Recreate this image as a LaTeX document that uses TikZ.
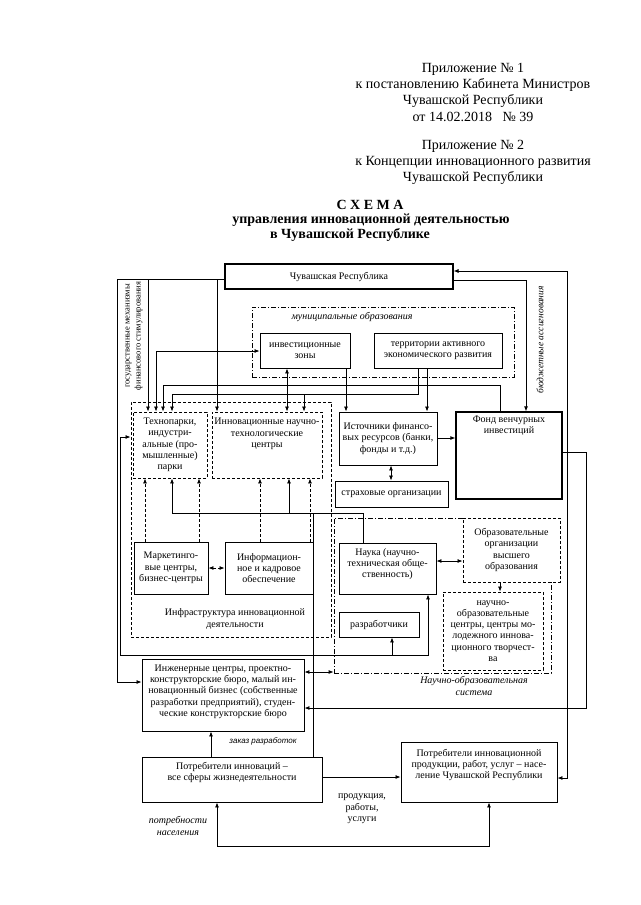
\documentclass[tikz,border=0pt]{standalone}
\usepackage{fontspec}
\setmainfont{Liberation Serif}
\newfontfamily\labsans{Liberation Sans}
\usetikzlibrary{arrows.meta}
\newcommand\bodyfont{\fontsize{10}{11.3}\selectfont}
\newcommand\headfont{\fontsize{14}{16}\selectfont}
\newcommand\titlefont{\fontsize{14}{15}\selectfont\bfseries}
\begin{document}
\begin{tikzpicture}[x=1pt,y=-1pt,
  solidbox/.style={draw, line width=0.9pt, fill=white, inner sep=0pt, align=center, font=\bodyfont},
  dashbox/.style={solidbox, dash pattern=on 3pt off 2pt},
  dotbox/.style={draw, line width=0.8pt, dash pattern=on 5pt off 2pt on 1pt off 2pt, inner sep=0pt},
  txt/.style={align=center, font=\bodyfont, inner sep=0pt},
  itxt/.style={align=center, font=\bodyfont\itshape, inner sep=0pt},
  conn/.style={line width=0.8pt},
  arr/.style={conn, -{Latex[length=5pt,width=4pt]}},
  arrb/.style={conn, {Latex[length=5pt,width=4pt]}-{Latex[length=5pt,width=4pt]}},
  darr/.style={arr, dash pattern=on 3pt off 2pt},
]
\useasboundingbox (0,0) rectangle (640,905);
\fill[white] (0,0) rectangle (640,905);

% header
\node[font=\headfont, inner sep=0] (h1) at (473,69) {Приложение № 1};
\node[font=\headfont, inner sep=0] (h2) at (473,85) {к постановлению Кабинета Министров};
\node[font=\headfont, inner sep=0] (h3) at (473,101) {Чувашской Республики};
\node[font=\headfont, inner sep=0] (h4) at (473,117) {от 14.02.2018\ \ \ № 39};
\node[font=\headfont, inner sep=0] (h5) at (473,146) {Приложение № 2};
\node[font=\headfont, inner sep=0] (h6) at (473,162) {к Концепции инновационного развития};
\node[font=\headfont, inner sep=0] (h7) at (473,178) {Чувашской Республики};

% title
\node[font=\titlefont, inner sep=0] (t1) at (370,205) {С Х Е М А};
\node[font=\titlefont, inner sep=0] (t2) at (371,220) {управления инновационной деятельностью};
\node[font=\titlefont, inner sep=0] (t3) at (350,235) {в Чувашской Республике};

% containers
\node[dotbox, minimum width=262pt, minimum height=70pt] (mun) at (383,342) {};
\node[itxt] (munt) at (352,317) {муниципальные образования};
\node[dashbox, minimum width=200pt, minimum height=235pt] (infra) at (231,519.5) {};
\node[txt] (infrat) at (235,619) {Инфраструктура инновационной\\деятельности};
\node[dotbox, minimum width=217pt, minimum height=155pt] (nos) at (442.5,595.5) {};
\node[itxt] (nost) at (474,686) {Научно-образовательная\\система};

% boxes
\node[solidbox, line width=1.1pt, minimum width=228pt, minimum height=25pt] (chr) at (339,276.5) {Чувашская Республика};
\node[solidbox, minimum width=90pt, minimum height=35pt] (inv) at (305,350.5) {инвестиционные\\зоны};
\node[solidbox, minimum width=128pt, minimum height=35pt] (taer) at (438,350.5) {территории активного\\экономического развития};
\node[dashbox, minimum width=74pt, minimum height=66pt] (tech) at (170,445) {Технопарки,\\индустри-\\альные (про-\\мышленные)\\парки};
\node[dashbox, minimum width=110pt, minimum height=66pt] (intc) at (267,445) {};
\node[txt] (intct) at (267,434) {Инновационные научно-\\технологические\\центры};
\node[solidbox, minimum width=74pt, minimum height=52pt] (market) at (171,568) {Маркетинго-\\вые центры,\\бизнес-центры};
\node[solidbox, minimum width=88pt, minimum height=52pt] (inform) at (269,568) {Информацион-\\ное и кадровое\\обеспечение};
\node[solidbox, minimum width=98pt, minimum height=53pt] (ist) at (388,438.5) {Источники финансо-\\вых ресурсов (банки,\\фонды и т.д.)};
\node[solidbox, minimum width=113pt, minimum height=26pt] (strah) at (391.5,494) {страховые организации};
\node[solidbox, line width=1.3pt, minimum width=106pt, minimum height=87pt] (fond) at (509,455.5) {};
\node[txt] (fondt) at (509,426) {Фонд венчурных\\инвестиций};
\node[solidbox, minimum width=97pt, minimum height=51pt] (nauka) at (387.5,568.5) {};
\node[txt] (naukat) at (387.5,564) {Наука (научно-\\техническая обще-\\ственность)};
\node[solidbox, minimum width=80pt, minimum height=25pt] (razr) at (379,624.5) {разработчики};
\node[dashbox, minimum width=97pt, minimum height=64pt] (obr) at (511.5,550) {Образовательные\\организации\\высшего\\образования};
\node[dashbox, minimum width=100pt, minimum height=78pt] (noc) at (493,631) {научно-\\образовательные\\центры, центры мо-\\лодежного иннова-\\ционного творчест-\\ва};
\node[solidbox, minimum width=162pt, minimum height=72pt] (eng) at (223,695) {};
\node[txt] (engt) at (223,691.5) {Инженерные центры, проектно-\\конструкторские бюро, малый ин-\\новационный бизнес (собственные\\разработки предприятий), студен-\\ческие конструкторские бюро};
\node[solidbox, minimum width=180pt, minimum height=45pt] (potr1) at (232,779.5) {};
\node[txt] (potr1t) at (232,772.5) {Потребители инноваций –\\все сферы жизнедеятельности};
\node[solidbox, minimum width=156pt, minimum height=60pt] (potr2) at (479,772) {};
\node[txt] (potr2t) at (479,765) {Потребители инновационной\\продукции, работ, услуг – насе-\\ление Чувашской Республики};

% rotated labels
\node[font=\fontsize{8.5}{11}\selectfont, align=center, inner sep=0, rotate=90] (gov) at (134,336) {государственные механизмы\\финансового стимулирования};
\node[font=\fontsize{9.5}{11}\selectfont\itshape, inner sep=0, rotate=90] (budg) at (540,340) {бюджетные ассигнования};

% free labels
\node[font=\labsans\fontsize{8}{10}\selectfont\itshape, inner sep=0] (zak) at (263,741) {заказ разработок};
\node[txt] (prod) at (362,809) {продукция,\\работы,\\услуги};
\node[itxt] (potrn) at (178,826) {потребности\\населения};

% connectors
\draw[arr] (chr.west |- 0,279) -- (117,279) -- (117,682) -- (eng.west |- 0,682);
\draw[arr] (148,279) -- (148,0 |- tech.north);
\draw[arr] (217,279) -- (217,0 |- intc.north);
\draw[arrb] (156,0 |- tech.north) -- (156,351) -- (inv.west |- 0,351);
\draw[arr] (500,0 |- fond.north) -- (500,385) -- (163,385) -- (163,0 |- tech.north);
\draw[arr] (418,0 |- taer.south) -- (418,394) -- (172,394) -- (172,0 |- tech.north);
\draw[arr] (304,394) -- (304,0 |- intc.north);
\draw[arrb] (287,0 |- inv.south) -- (287,0 |- intc.north);
\draw[arr] (346,0 |- inv.south) -- (346,0 |- ist.north);
\draw[arr] (427,0 |- taer.south) -- (427,0 |- ist.north);
\draw[arr] (chr.east |- 0,280) -- (526,280) -- (526,0 |- fond.north);
\draw[arrb] (chr.east |- 0,271) -- (567,271) -- (567,778) -- (potr2.east |- 0,778);
\draw[arr] (fond.east |- 0,452) -- (586,452) -- (586,708) -- (eng.east |- 0,708);
\draw[arr] (ist.east |- 0,438) -- (fond.west |- 0,438);
\draw[arrb] (391,0 |- ist.south) -- (391,0 |- strah.north);
\draw[arr] (363,0 |- nauka.north) -- (363,513) -- (172,513) -- (172,0 |- tech.south);
\draw[arr] (289,513) -- (289,0 |- intc.south);
\draw[conn] (313,513) -- (313,0 |- potr1.north);
\draw[darr] (145,0 |- market.north) -- (145,0 |- tech.south);
\draw[darr] (199,0 |- market.north) -- (199,0 |- tech.south);
\draw[darr] (260,0 |- inform.north) -- (260,0 |- intc.south);
\draw[darr] (310,0 |- inform.north) -- (310,0 |- intc.south);
\draw[arrb, dash pattern=on 3pt off 2pt] (market.east) -- (inform.west);
\draw[arrb] (infra.west |- 0,437) -- (120,437) -- (120,655) -- (428,655) -- (428,0 |- nauka.south);
\draw[arr] (392,655) -- (392,0 |- razr.south);
\draw[arrb] (eng.east |- 0,672) -- (nos.west |- 0,672);
\draw[arrb] (nauka.east |- 0,561) -- (obr.west |- 0,561);
\draw[arr] (500,0 |- obr.south) -- (500,0 |- noc.north);
\draw[arr] (211,0 |- potr1.north) -- (211,0 |- eng.south);
\draw[arr] (potr1.east |- 0,777) -- (potr2.west |- 0,777);
\draw[arrb] (489,0 |- potr2.south) -- (489,846) -- (217,846) -- (217,0 |- potr1.south);
\end{tikzpicture}
\end{document}
